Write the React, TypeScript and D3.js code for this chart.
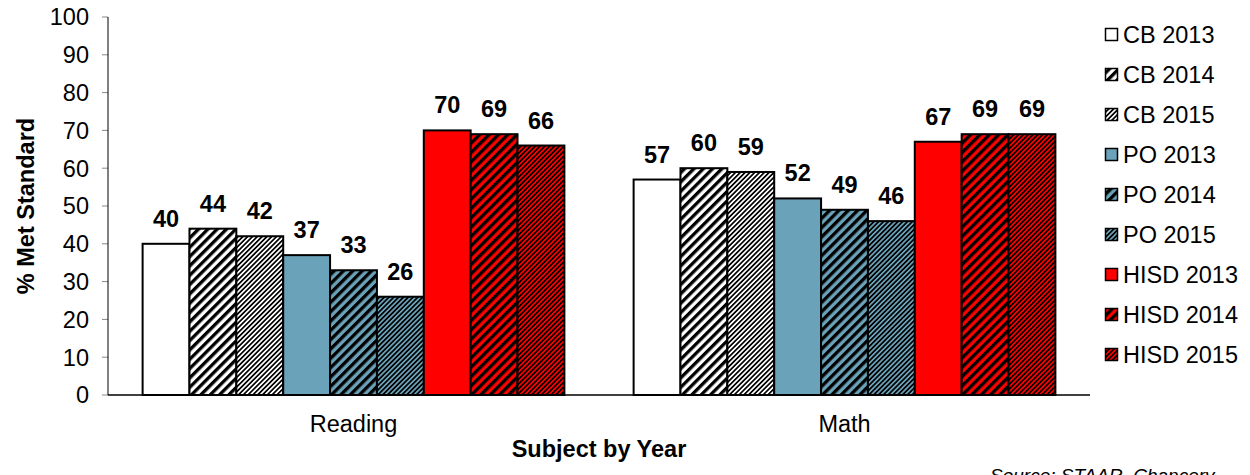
import React from "react";
import * as d3 from "d3";

const categories = ["Reading", "Math"];
const seriesNames = [
  "CB 2013", "CB 2014", "CB 2015",
  "PO 2013", "PO 2014", "PO 2015",
  "HISD 2013", "HISD 2014", "HISD 2015",
];
const readingValues = [40, 44, 42, 37, 33, 26, 70, 69, 66];
const mathValues = [57, 60, 59, 52, 49, 46, 67, 69, 69];
const yTicks = [0, 10, 20, 30, 40, 50, 60, 70, 80, 90, 100];

const BLUE = "#6aa3b9";
const RED = "#ff0000";
// fill style per series: [background, hatch: "none" | "wide" | "narrow"]
const seriesStyle: [string, string][] = [
  ["#ffffff", "none"], ["#ffffff", "wide"], ["#ffffff", "narrow"],
  [BLUE, "none"], [BLUE, "wide"], [BLUE, "narrow"],
  [RED, "none"], [RED, "wide"], [RED, "narrow"],
];

const W = 1250, H = 475;
const L = 108, R = 1090, T = 17, B = 395;
const FONT = "Arial, 'Liberation Sans', sans-serif";
const FS = 23.5;

export default function App() {
  const values = [readingValues, mathValues];
  const x0 = d3.scaleBand<string>().domain(categories).range([L, R]);
  const bw = x0.bandwidth();
  const x1 = d3.scaleBand<string>().domain(seriesNames).range([bw * 0.0705, bw * 0.9295]);
  const y = d3.scaleLinear().domain([0, 100]).range([B, T]);

  const fillFor = (i: number) => {
    const [bg, h] = seriesStyle[i];
    return h === "none" ? bg : `url(#pat${i})`;
  };

  return (
    <svg width={W} height={H} style={{ position: "absolute", left: 0, top: 0, background: "#fff" }}
      fontFamily={FONT}>
      <defs>
        {seriesStyle.map(([bg, h], i) => {
          if (h === "none") return null;
          const s = h === "wide" ? 6.6 : 3.4;
          return (
            <pattern key={i} id={`pat${i}`} patternUnits="userSpaceOnUse" width={s} height={s}
              patternTransform="rotate(45)">
              <rect width={s} height={s} fill={bg} />
              <rect width={s / 2} height={s} fill="#000" />
            </pattern>
          );
        })}
      </defs>
      <rect width={W} height={H} fill="#fff" />

      {/* y axis ticks */}
      {yTicks.map((t) => (
        <g key={t}>
          <line x1={L - 6} x2={L} y1={y(t)} y2={y(t)} stroke="#888" strokeWidth={1} />
          <text x={89} y={y(t) + 8.3} textAnchor="end" fontSize={FS} fill="#000">{t}</text>
        </g>
      ))}
      <line x1={L} x2={L} y1={T} y2={B} stroke="#000" strokeWidth={1} />

      {/* bars */}
      {categories.map((c, ci) => (
        <g key={c} transform={`translate(${x0(c)},0)`}>
          {values[ci].map((v, i) => (
            <rect key={i} x={x1(seriesNames[i])} y={y(v)} width={x1.bandwidth()} height={B - y(v)}
              fill={fillFor(i)} stroke="#000" strokeWidth={2} />
          ))}
          {values[ci].map((v, i) => (
            <text key={"l" + i} x={(x1(seriesNames[i]) as number) + x1.bandwidth() / 2} y={y(v) - 17}
              textAnchor="middle" fontSize={FS} fontWeight="bold" fill="#000">{v}</text>
          ))}
          <text x={bw / 2} y={432} textAnchor="middle" fontSize={FS} fill="#000">{c}</text>
        </g>
      ))}
      <line x1={L} x2={R} y1={B} y2={B} stroke="#000" strokeWidth={1.5} />

      {/* titles */}
      <text x={(L + R) / 2} y={457} textAnchor="middle" fontSize={FS} fontWeight="bold">Subject by Year</text>
      <text transform={`translate(34,${(T + B) / 2}) rotate(-90)`} textAnchor="middle" fontSize={FS}
        fontWeight="bold">% Met Standard</text>
      <text x={990} y={482} fontSize={19} fontStyle="italic">Source: STAAR, Chancery</text>

      {/* legend */}
      {seriesNames.map((n, i) => {
        const cy = 35 + i * 40;
        return (
          <g key={n}>
            <rect x={1105.5} y={cy - 6.5} width={12} height={12} fill={fillFor(i)} stroke="#000" strokeWidth={1.5} />
            <text x={1123} y={cy + 8.3} fontSize={FS}>{n}</text>
          </g>
        );
      })}
    </svg>
  );
}
